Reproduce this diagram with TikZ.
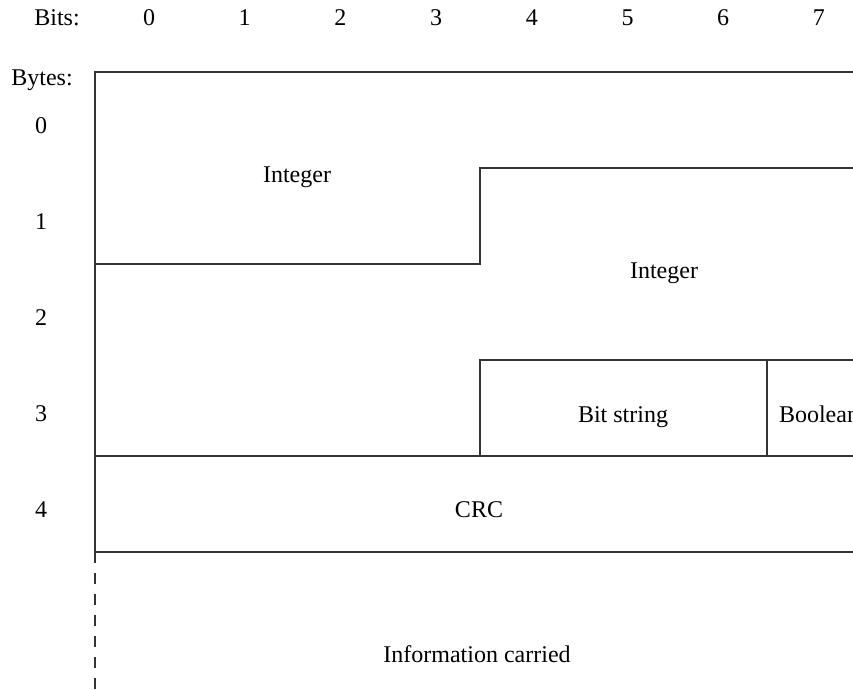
\documentclass[tikz,border=0pt]{standalone}
\usepackage{fontspec}
\setmainfont{Liberation Serif}
\begin{document}
\begin{tikzpicture}[x=1pt,y=-1pt,
    lbl/.style={anchor=base,inner sep=0pt,font=\fontsize{24}{28}\selectfont},
    frame/.style={draw=black!80,line width=1.3pt,line cap=rect},
    carried/.style={draw=black!80,line width=1.3pt,dash pattern=on 11pt off 10pt}]
  \useasboundingbox (0,0) rectangle (853,689);
  \clip (0,0) rectangle (853,689);

  % bit numbers along the top
  \node[lbl] (bitshead) at (57,25) {Bits:};
  \foreach \i in {0,...,7}
    \node[lbl] (bit\i) at ({149+95.7*\i},25) {\i};

  % byte numbers down the side
  \node[lbl] (byteshead) at (42,85) {Bytes:};
  \foreach \j in {0,...,4}
    \node[lbl] (byte\j) at (41,{133+96*\j}) {\j};

  % field boundaries
  \coordinate (tl) at (95,72);
  \coordinate (tr) at (860,72);
  \coordinate (bl) at (95,552);
  \coordinate (br) at (860,552);
  \draw[frame] (br) -- (bl) -- (tl) -- (tr);
  \draw[frame] (860,168) -- (480,168) -- (480,264) -- (95,264);
  \draw[frame] (860,360) -- (480,360) -- (480,456);
  \draw[frame] (767,360) -- (767,456);
  \draw[frame] (95,456) -- (860,456);
  \draw[carried] (bl) -- (95,700);

  % field names
  \node[lbl] (int1) at (297,182) {Integer};
  \node[lbl] (int2) at (664,278) {Integer};
  \node[lbl] (bitstr) at (623,422) {Bit string};
  \node[lbl] (bool) at (819,422) {Boolean};
  \node[lbl] (crc) at (479,517) {CRC};
  \node[lbl] (info) at (477,662) {Information carried};
\end{tikzpicture}
\end{document}
